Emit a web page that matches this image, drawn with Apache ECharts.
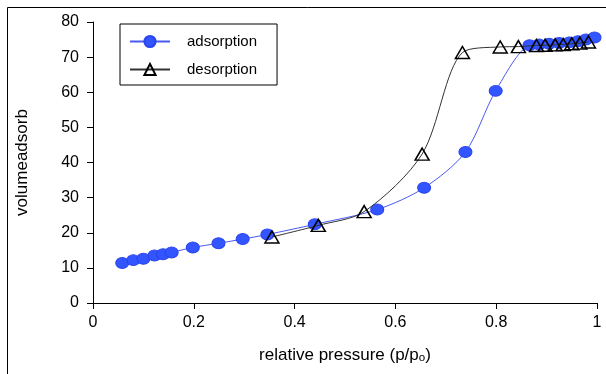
<!DOCTYPE html>
<html>
<head>
<meta charset="utf-8">
<script src="https://cdn.jsdelivr.net/npm/echarts@6/dist/echarts.min.js"></script>
<style>
  html, body { margin: 0; padding: 0; background: #fff; }
  #chart { width: 606px; height: 374px; }
</style>
</head>
<body>
<div id="chart"></div>
<script>
// adsorption branch
const adsX = [0.058, 0.080, 0.100, 0.122, 0.139, 0.156, 0.198, 0.249, 0.297, 0.346,
  0.440, 0.564, 0.657, 0.739, 0.799, 0.866, 0.885, 0.905, 0.925, 0.945, 0.962, 0.978, 0.995];
const adsY = [11.4, 12.2, 12.6, 13.5, 13.9, 14.4, 15.8, 17.0, 18.2, 19.5,
  22.4, 26.6, 32.8, 43.0, 60.4, 73.4, 73.6, 73.8, 74.0, 74.2, 74.5, 75.0, 75.6];

// desorption branch
const desX = [0.355, 0.447, 0.538, 0.653, 0.733, 0.808, 0.844, 0.880, 0.897, 0.917,
  0.933, 0.950, 0.966, 0.983];
const desY = [18.8, 22.1, 26.0, 42.4, 71.3, 72.9, 73.0, 73.3, 73.4, 73.5,
  73.6, 73.8, 74.0, 74.3];

const xTicks = [0, 0.2, 0.4, 0.6, 0.8, 1];
const yTicks = [0, 10, 20, 30, 40, 50, 60, 70, 80];

const font = "'Liberation Sans', Arial, sans-serif";
const pairs = (xs, ys) => xs.map((x, i) => [x, ys[i]]);

const chart = echarts.init(document.getElementById("chart"));
chart.setOption({
  backgroundColor: "#fff",
  animation: false,
  graphic: [
    {
      type: "rect",
      shape: { x: 7.5, y: 7.5, width: 620, height: 400 },
      style: { fill: "none", stroke: "#000", lineWidth: 1 },
      silent: true,
    },
  ],
  grid: { left: 93, right: 9, top: 22, bottom: 71 },
  legend: {
    left: 120,
    top: 24,
    orient: "vertical",
    backgroundColor: "#fff",
    borderColor: "#000",
    borderWidth: 1,
    borderRadius: 0,
    padding: [10, 20, 8, 9],
    itemWidth: 40,
    itemHeight: 14,
    itemGap: 13,
    textStyle: { fontFamily: font, fontSize: 15, color: "#000", padding: [0, 0, 0, 12] },
    data: ["adsorption", "desorption"],
  },
  xAxis: {
    type: "value",
    min: 0,
    max: 1,
    interval: 0.2,
    name: "relative pressure (p/pₒ)",
    nameLocation: "middle",
    nameGap: 44,
    nameTextStyle: { fontFamily: font, fontSize: 17, color: "#000" },
    axisLine: { show: true, lineStyle: { color: "#000", width: 1 } },
    axisTick: { show: true, length: 6, lineStyle: { color: "#000" } },
    axisLabel: {
      fontFamily: font,
      fontSize: 16,
      color: "#000",
      margin: 12,
      formatter: (v) => (xTicks.includes(Math.round(v * 10) / 10) ? String(Math.round(v * 10) / 10) : ""),
    },
    splitLine: { show: false },
  },
  yAxis: {
    type: "value",
    min: 0,
    max: 80,
    interval: 10,
    name: "volumeadsorb",
    nameLocation: "middle",
    nameGap: 62,
    nameTextStyle: { fontFamily: font, fontSize: 17, color: "#000" },
    axisLine: { show: true, lineStyle: { color: "#000", width: 1 } },
    axisTick: { show: true, length: 6, lineStyle: { color: "#000" } },
    axisLabel: {
      fontFamily: font,
      fontSize: 16,
      color: "#000",
      margin: 14,
      formatter: (v) => (yTicks.includes(v) ? String(v) : ""),
    },
    splitLine: { show: false },
  },
  series: [
    {
      name: "adsorption",
      type: "line",
      data: pairs(adsX, adsY),
      smooth: 0.3,
      symbol: "circle",
      symbolSize: [13, 11],
      lineStyle: { color: "#4a5af2", width: 1 },
      itemStyle: { color: "#3355ff", borderColor: "#2a44ee", borderWidth: 1 },
      z: 2,
    },
    {
      name: "desorption",
      type: "line",
      data: pairs(desX, desY),
      smooth: 0.3,
      symbol: "triangle",
      symbolSize: [14, 12],
      lineStyle: { color: "#333", width: 1 },
      itemStyle: { color: "rgba(255,255,255,0)", borderColor: "#000", borderWidth: 1.5 },
      z: 3,
    },
  ],
});
</script>
</body>
</html>
